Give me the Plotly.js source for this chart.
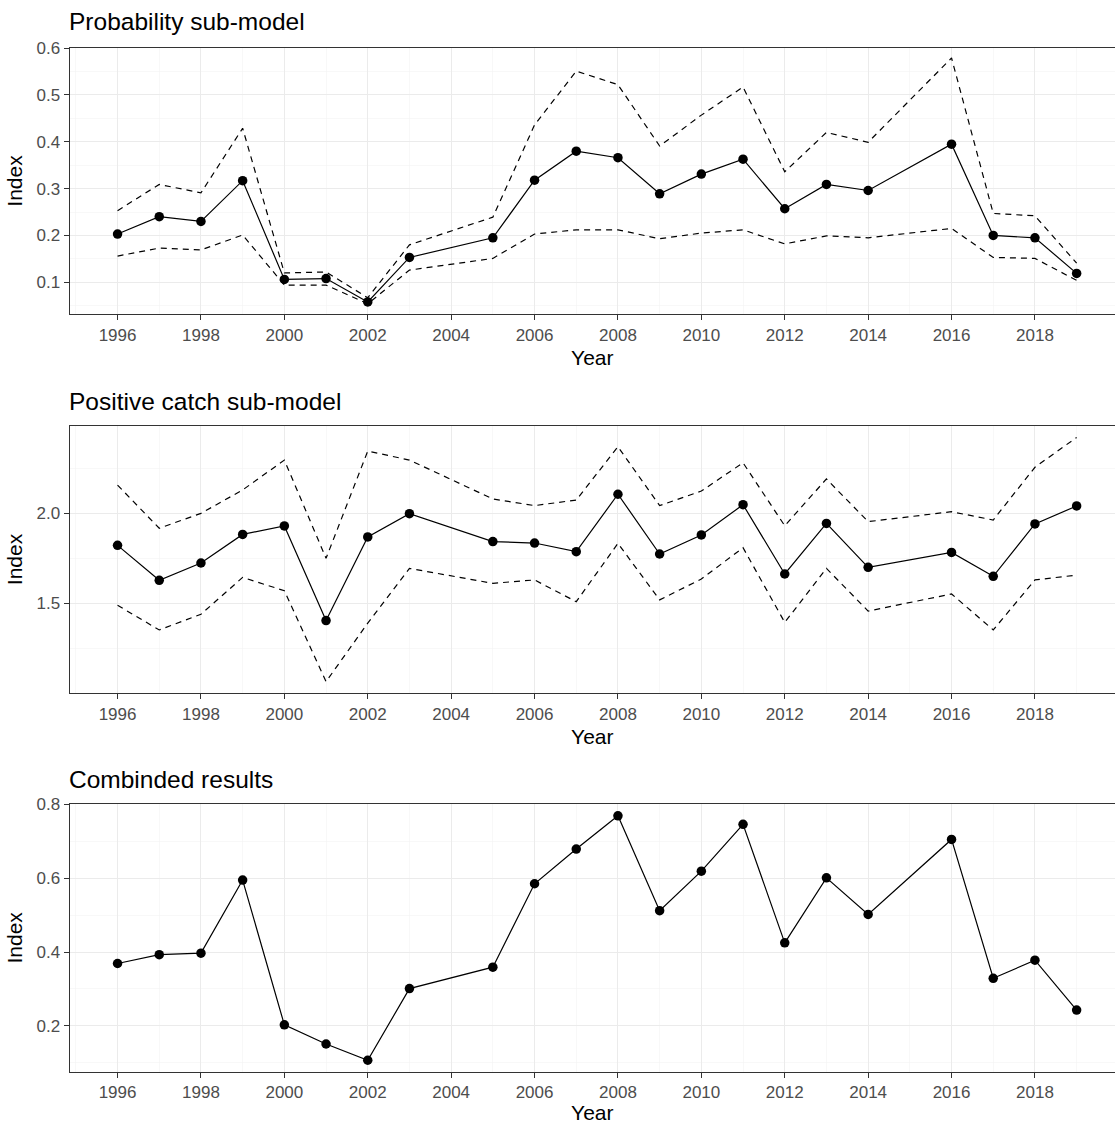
<!DOCTYPE html>
<html>
<head>
<meta charset="utf-8">
<script src="https://cdn.plot.ly/plotly-3.0.1.min.js"></script>
<style>
  html, body { margin: 0; padding: 0; background: #fff; overflow: hidden; }
  #chart { width: 1115px; height: 1124px; }
</style>
</head>
<body>
<div id="chart"></div>
<script>
// Survey years (no survey in 2004 and 2015)
const years = [1996, 1997, 1998, 1999, 2000, 2001, 2002, 2003, 2005, 2006, 2007,
               2008, 2009, 2010, 2011, 2012, 2013, 2014, 2016, 2017, 2018, 2019];

// Probability sub-model: estimate with lower / upper confidence bounds
const probIndex = [0.203, 0.240, 0.230, 0.317, 0.106, 0.108, 0.058, 0.153, 0.195, 0.318, 0.380,
                   0.366, 0.289, 0.331, 0.363, 0.257, 0.309, 0.296, 0.395, 0.200, 0.195, 0.119];
const probLower = [0.156, 0.173, 0.169, 0.201, 0.094, 0.094, 0.054, 0.126, 0.151, 0.203, 0.212,
                   0.212, 0.193, 0.205, 0.212, 0.182, 0.199, 0.195, 0.215, 0.153, 0.151, 0.104];
const probUpper = [0.253, 0.309, 0.291, 0.429, 0.120, 0.122, 0.067, 0.180, 0.239, 0.436, 0.551,
                   0.522, 0.391, 0.457, 0.517, 0.336, 0.420, 0.399, 0.579, 0.247, 0.242, 0.141];

// Positive catch sub-model: estimate with lower / upper confidence bounds
const posIndex = [1.822, 1.628, 1.724, 1.883, 1.930, 1.404, 1.869, 1.998, 1.843, 1.835, 1.787,
                  2.106, 1.774, 1.880, 2.048, 1.663, 1.944, 1.700, 1.783, 1.650, 1.941, 2.041];
const posLower = [1.489, 1.352, 1.439, 1.644, 1.570, 1.065, 1.390, 1.694, 1.611, 1.630, 1.509,
                  1.833, 1.519, 1.635, 1.809, 1.394, 1.694, 1.457, 1.552, 1.352, 1.630, 1.657];
const posUpper = [2.157, 1.917, 2.000, 2.130, 2.296, 1.750, 2.346, 2.296, 2.080, 2.043, 2.074,
                  2.370, 2.043, 2.124, 2.281, 1.931, 2.191, 1.954, 2.009, 1.963, 2.256, 2.422];

// Combined index
const combIndex = [0.369, 0.393, 0.397, 0.595, 0.203, 0.151, 0.107, 0.301, 0.359, 0.585, 0.679,
                   0.769, 0.512, 0.619, 0.746, 0.425, 0.601, 0.502, 0.705, 0.329, 0.378, 0.243];

// Axis tick labels
const yearTicks = [1996, 1998, 2000, 2002, 2004, 2006, 2008, 2010, 2012, 2014, 2016, 2018];
const yearMinor = [1995, 1997, 1999, 2001, 2003, 2005, 2007, 2009, 2011, 2013, 2015, 2017, 2019];
const probTicks = [0.1, 0.2, 0.3, 0.4, 0.5, 0.6];
const probMinor = [0.05, 0.15, 0.25, 0.35, 0.45, 0.55];
const posTicks = [1.5, 2.0];
const posTickText = ['1.5', '2.0'];
const posMinor = [1.25, 1.75, 2.25];
const combTicks = [0.2, 0.4, 0.6, 0.8];
const combMinor = [0.1, 0.3, 0.5, 0.7];

const panelTitles = ['Probability sub-model', 'Positive catch sub-model', 'Combinded results'];

const FONT = '"Liberation Sans", Arial, sans-serif';
const GRID = '#EBEBEB';
const BORDER = '#333333';

function dashed(y, xa, ya) {
  return {
    x: years, y: y, xaxis: xa, yaxis: ya, type: 'scatter', mode: 'lines',
    line: { color: '#000', width: 1.2, dash: '6px,5px' },
    hoverinfo: 'skip', showlegend: false
  };
}
function main(y, xa, ya) {
  return {
    x: years, y: y, xaxis: xa, yaxis: ya, type: 'scatter', mode: 'lines+markers',
    line: { color: '#000', width: 1.2 },
    marker: { color: '#000', size: 9.5 },
    showlegend: false
  };
}

const data = [
  dashed(probUpper, 'x', 'y'), dashed(probLower, 'x', 'y'), main(probIndex, 'x', 'y'),
  dashed(posUpper, 'x2', 'y2'), dashed(posLower, 'x2', 'y2'), main(posIndex, 'x2', 'y2'),
  main(combIndex, 'x3', 'y3')
];

function xAxis(anchor) {
  return {
    anchor: anchor, domain: [69.6 / 1115, 1],
    range: [1994.85, 2019.92],
    tickmode: 'array', tickvals: yearTicks,
    ticks: 'outside', ticklen: 5, tickwidth: 1, tickcolor: BORDER,
    tickfont: { family: FONT, size: 17, color: '#4D4D4D' },
    showline: true, linecolor: BORDER, linewidth: 1, mirror: true,
    showgrid: true, gridcolor: GRID, gridwidth: 1, zeroline: false,
    minor: { tickmode: 'array', tickvals: yearMinor, showgrid: true, gridcolor: '#F3F3F3', gridwidth: 0.6, ticklen: 0 },
    title: { text: 'Year', font: { family: FONT, size: 21, color: '#000' }, standoff: 6 }
  };
}
function yAxis(anchor, domain, range, ticks, minor, ticktext) {
  const ax = {
    anchor: anchor, domain: domain, range: range,
    tickmode: 'array', tickvals: ticks,
    ticks: 'outside', ticklen: 5, tickwidth: 1, tickcolor: BORDER,
    tickfont: { family: FONT, size: 17, color: '#4D4D4D' },
    showline: true, linecolor: BORDER, linewidth: 1, mirror: false,
    showgrid: true, gridcolor: GRID, gridwidth: 1, zeroline: false,
    minor: { tickmode: 'array', tickvals: minor, showgrid: true, gridcolor: '#F3F3F3', gridwidth: 0.6, ticklen: 0 },
    title: { text: 'Index', font: { family: FONT, size: 21, color: '#000' }, standoff: 8 }
  };
  if (ticktext) ax.ticktext = ticktext;
  return ax;
}

const H = 1124;
const dom = (top, bottom) => [(H - bottom) / H, (H - top) / H];

const layout = {
  width: 1115, height: 1124,
  margin: { l: 0, r: 0, t: 0, b: 0 },
  paper_bgcolor: '#fff', plot_bgcolor: '#fff',
  font: { family: FONT },
  showlegend: false,
  xaxis: xAxis('y'),
  yaxis: yAxis('x', dom(47.7, 314.3), [0.0316, 0.601], probTicks, probMinor),
  xaxis2: xAxis('y2'),
  yaxis2: yAxis('x2', dom(425.7, 693.3), [1.0, 2.487], posTicks, posMinor, posTickText),
  xaxis3: xAxis('y3'),
  yaxis3: yAxis('x3', dom(804, 1071.7), [0.076, 0.801], combTicks, combMinor),
  annotations: [
    { text: panelTitles[0], y: (H - 22) / H },
    { text: panelTitles[1], y: (H - 401) / H },
    { text: panelTitles[2], y: (H - 779) / H }
  ].map(a => Object.assign({
    xref: 'paper', yref: 'paper', x: 69.6 / 1115, xanchor: 'left', yanchor: 'middle',
    xshift: -3, showarrow: false, font: { family: FONT, size: 24.5, color: '#000' }
  }, a))
};

Plotly.newPlot('chart', data, layout, { displayModeBar: false, staticPlot: true });
</script>
</body>
</html>
